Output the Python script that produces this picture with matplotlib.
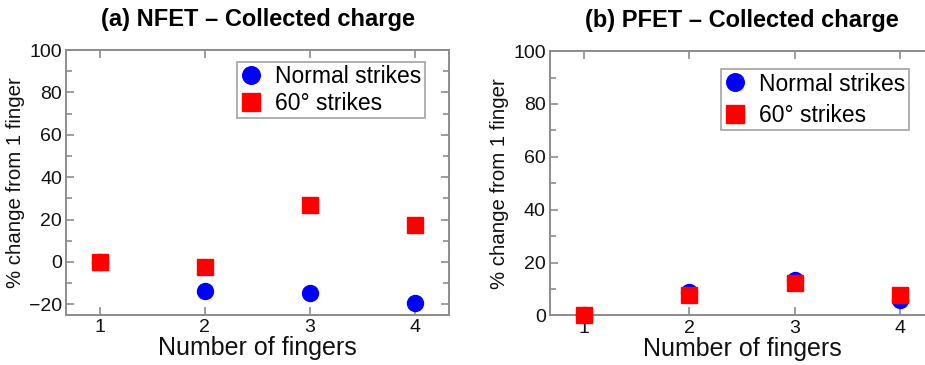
import matplotlib
matplotlib.use("Agg")
import matplotlib.pyplot as plt
from matplotlib.ticker import MultipleLocator

plt.rcParams['font.family'] = ['Liberation Sans', 'DejaVu Sans']

fingers = [1, 2, 3, 4]

# (a) NFET
nfet_normal = [0, -13.6, -14.4, -19.4]
nfet_60deg = [0, -2.5, 27.1, 17.3]

# (b) PFET
pfet_normal = [0, 8.7, 13.4, 6.0]
pfet_60deg = [0, 7.7, 12.1, 7.7]

titles = ['(a) NFET \u2013 Collected charge', '(b) PFET \u2013 Collected charge']
series_labels = ['Normal strikes', '60\u00b0 strikes']

spine_col = '#8c8c8c'


def style_axes(ax, ylim, title):
    ax.set_xlim(0.68, 4.32)
    ax.set_ylim(*ylim)
    ax.set_xticks(fingers)
    ax.yaxis.set_major_locator(MultipleLocator(20))
    ax.yaxis.set_minor_locator(MultipleLocator(10))
    ax.tick_params(which='both', direction='in', top=True, right=True,
                   color=spine_col, width=1.2, labelsize=14, labelcolor='#111111')
    ax.tick_params(which='major', length=6, pad=3)
    ax.tick_params(which='minor', length=4)
    ax.tick_params(axis='x', which='minor', top=False, bottom=False)
    for sp in ax.spines.values():
        sp.set_color(spine_col)
        sp.set_linewidth(1.4)
    ax.set_xlabel('Number of fingers', fontsize=18, labelpad=0, color='#111111')
    ax.set_ylabel('% change from 1 finger', fontsize=14.7, labelpad=3, color='#111111')
    ax.set_title(title, fontsize=17, fontweight='bold', pad=17)


fig = plt.figure(figsize=(9.25, 3.65), dpi=100)
ax1 = fig.add_axes([0.0714, 0.137, 0.414, 0.726])
ax2 = fig.add_axes([0.5946, 0.136, 0.415, 0.724])

panels = [
    (ax1, nfet_normal, nfet_60deg, (-25, 100), titles[0], (0.937, 0.955), 0.15),
    (ax2, pfet_normal, pfet_60deg, (0, 100), titles[1], (0.935, 0.932), 0.35),
]

for ax, normal, deg60, ylim, title, anchor, spacing in panels:
    ax.plot(fingers, normal, 'o', color='#0000ff', markersize=11.5,
            label=series_labels[0], clip_on=False, zorder=3)
    ax.plot(fingers, deg60, 's', color='#ff0000', markersize=11.5,
            label=series_labels[1], clip_on=False, zorder=4)
    style_axes(ax, ylim, title)
    leg = ax.legend(loc='upper right', bbox_to_anchor=anchor, fontsize=16.5,
                    frameon=True, fancybox=False, handlelength=0.9,
                    handletextpad=0.6, borderpad=0.15, labelspacing=spacing,
                    borderaxespad=0, markerscale=1.1)
    leg.get_frame().set_edgecolor(spine_col)
    leg.get_frame().set_linewidth(1.2)

fig.savefig('out.png', dpi=100)
